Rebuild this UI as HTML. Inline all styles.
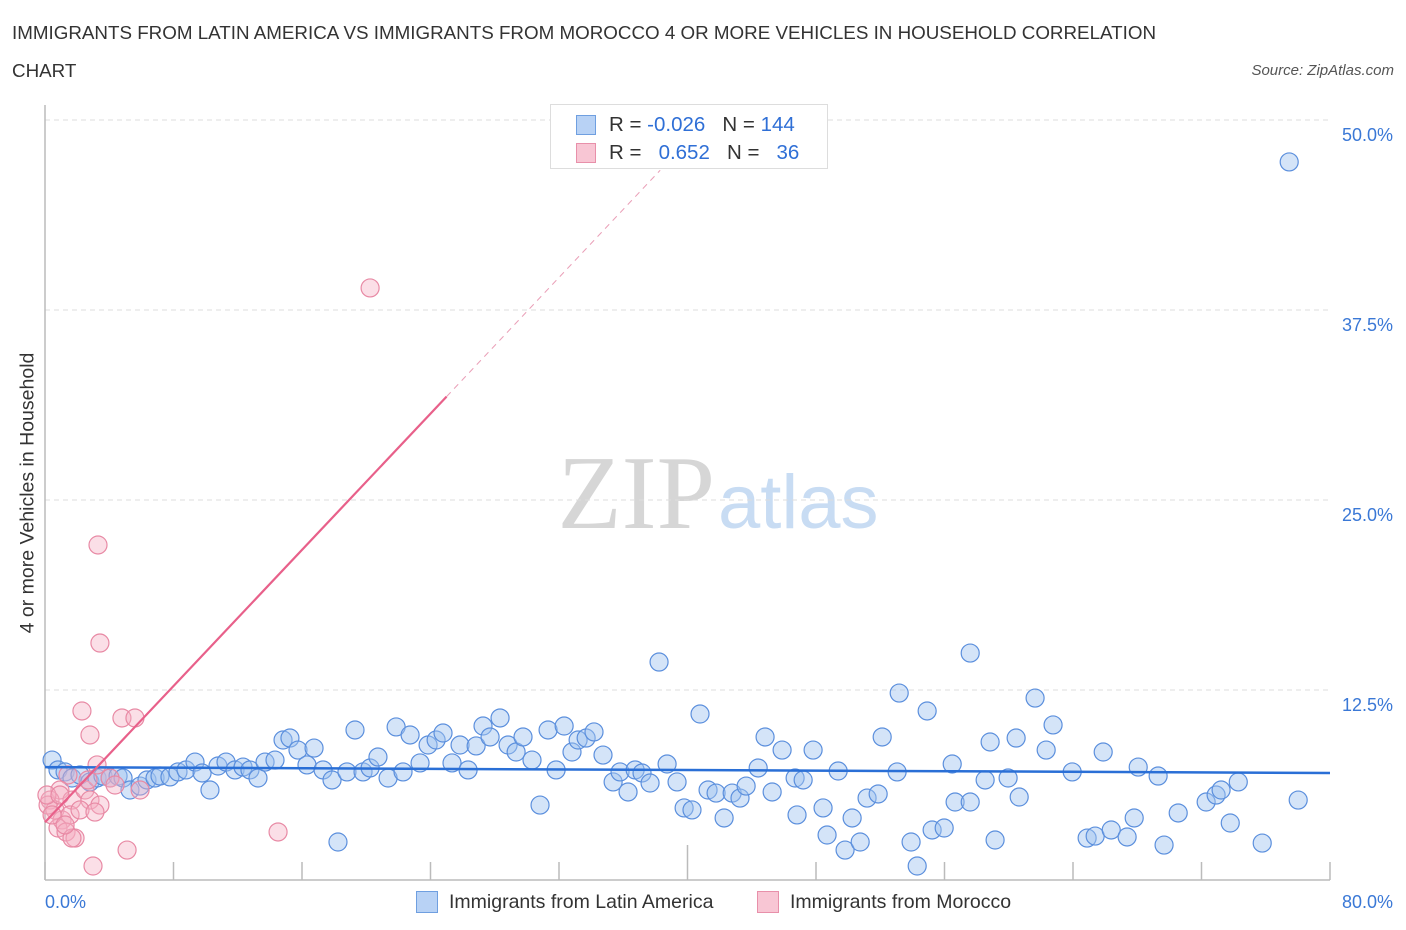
<!DOCTYPE html>
<html><head><meta charset="utf-8">
<style>
body{margin:0;background:#fff;font-family:"Liberation Sans",sans-serif;}
#wrap{position:relative;width:1406px;height:930px;overflow:hidden;}
.t{position:absolute;white-space:nowrap;}
</style></head>
<body>
<div id="wrap">
<div class="t" style="left:12px;top:22px;font-size:18.8px;color:#333;">IMMIGRANTS FROM LATIN AMERICA VS IMMIGRANTS FROM MOROCCO 4 OR MORE VEHICLES IN HOUSEHOLD CORRELATION</div>
<div class="t" style="left:12px;top:60px;font-size:18.8px;color:#333;">CHART</div>
<div class="t" style="right:12px;top:62px;font-size:15px;color:#555;font-style:italic;">Source: ZipAtlas.com</div>
<svg id="chart" width="1406" height="930" style="position:absolute;left:0;top:0">
<text x="715" y="528" font-family="Liberation Serif,serif" font-size="105" fill="#d6d6d6" text-anchor="end">ZIP</text>
<text x="718" y="528" font-family="Liberation Sans,sans-serif" font-size="76" fill="#c8dcf3">atlas</text>
</svg>
<div class="t" style="left:550px;top:104px;width:276px;height:63px;border:1px solid #ddd;background:#fff;">
 <div style="position:absolute;left:25px;top:10px;width:18px;height:18px;background:#b8d2f5;border:1px solid #6f9fe0;"></div>
 <div style="position:absolute;left:25px;top:38px;width:18px;height:18px;background:#f8c6d4;border:1px solid #e890aa;"></div>
 <div class="t" style="left:58px;top:8px;font-size:20.5px;color:#333;">R = <span style="color:#2f6fd6">-0.026</span>&nbsp;&nbsp;&nbsp;N = <span style="color:#2f6fd6">144</span></div>
 <div class="t" style="left:58px;top:36px;font-size:20.5px;color:#333;">R = &nbsp;&nbsp;<span style="color:#2f6fd6">0.652</span>&nbsp;&nbsp;&nbsp;N = &nbsp;&nbsp;<span style="color:#2f6fd6">36</span></div>
</div>
<div class="t" style="left:416px;top:891px;width:20px;height:20px;background:#b8d2f5;border:1px solid #6f9fe0;"></div>
<div class="t" style="left:449px;top:891px;font-size:19.5px;color:#333;">Immigrants from Latin America</div>
<div class="t" style="left:757px;top:891px;width:20px;height:20px;background:#f8c6d4;border:1px solid #e890aa;"></div>
<div class="t" style="left:790px;top:891px;font-size:19.5px;color:#333;">Immigrants from Morocco</div>
<div class="t" style="left:14px;top:493px;font-size:19.5px;color:#333;transform:translate(-50%,-50%) rotate(-90deg);transform-origin:center;margin-left:14px;">4 or more Vehicles in Household</div>
</div>
<script>
const latinX=[0.44,0.81,1.25,1.68,2.18,2.8,3.24,3.61,4.05,4.55,4.86,5.29,5.92,6.35,6.85,7.16,7.78,8.28,8.78,9.34,9.78,10.27,10.77,11.27,11.83,12.33,12.76,13.26,13.7,14.32,14.82,15.25,15.75,16.31,16.75,17.31,17.87,18.24,18.8,19.3,19.8,20.24,20.73,21.36,21.86,22.29,22.73,23.35,23.85,24.35,24.78,25.34,25.84,26.34,26.84,27.27,27.71,28.33,28.83,29.33,29.76,30.32,30.82,31.32,31.82,32.32,32.81,33.19,33.69,34.18,34.74,35.37,35.8,36.3,36.74,37.17,37.67,38.23,38.73,39.35,39.79,40.28,40.78,41.28,41.78,42.28,42.78,43.27,43.65,44.4,44.83,45.27,45.89,46.7,46.82,47.2,47.82,48.44,48.69,49.38,49.81,50.25,50.75,51.18,51.87,52.12,53.05,53.18,53.92,54.3,54.92,55.23,55.98,56.48,56.66,57.6,57.6,58.53,58.84,59.15,59.96,60.46,60.65,61.64,62.33,62.76,63.95,64.88,65.38,65.88,66.38,67.37,67.81,68.06,69.3,69.67,70.55,72.29,72.91,73.22,73.79,74.29,75.78,77.46,78.02];
const latinY=[7.89,7.24,7.11,6.71,6.91,6.45,6.71,6.84,6.71,6.84,6.71,5.92,6.18,6.58,6.71,6.84,6.78,7.11,7.24,7.76,7.04,5.92,7.5,7.76,7.24,7.43,7.24,6.71,7.76,7.89,9.21,9.34,8.55,7.57,8.68,7.24,6.58,2.5,7.11,9.87,7.11,7.37,8.09,6.71,10.07,7.11,9.54,7.7,8.88,9.21,9.67,7.7,8.88,7.24,8.82,10.13,9.41,10.66,8.88,8.42,9.41,7.89,4.93,9.87,7.24,10.13,8.42,9.21,9.34,9.74,8.22,6.45,7.11,5.79,7.24,7.04,6.38,14.34,7.63,6.45,4.74,4.61,10.92,5.92,5.72,4.08,5.72,5.39,6.18,7.37,9.41,5.79,8.55,6.71,4.28,6.58,8.55,4.74,2.96,7.17,1.97,4.08,2.5,5.39,5.66,9.41,7.11,12.3,2.5,0.92,11.12,3.29,3.42,7.63,5.13,5.13,14.93,6.58,9.08,2.63,6.71,9.34,5.46,11.97,8.55,10.2,7.11,2.76,2.89,8.42,3.29,2.83,4.08,7.43,6.84,2.3,4.41,5.13,5.59,5.92,3.75,6.45,2.43,47.24,5.26];
const moroccoX=[3.3,3.42,2.3,4.79,5.6,2.8,3.24,1.43,0.93,0.31,0.62,0.19,1.68,1.06,1.56,0.81,1.31,1.87,2.49,2.8,2.18,3.42,4.05,4.36,5.92,20.24,14.51,5.11,2.99,0.12,0.44,1.68,1.25,2.68,0.93,3.11];
const moroccoY=[22.04,15.59,11.12,10.66,10.66,9.54,7.57,6.91,5.92,5.26,4.61,4.93,5.26,3.95,4.28,3.42,3.16,2.76,5.92,5.26,4.61,4.93,6.71,6.25,5.92,38.95,3.16,1.97,0.92,5.59,4.28,2.76,3.62,6.58,5.59,4.47];
const latinTrend=[7.43,7.04];
const moroccoTrend=[3.8,1.12];
const yTicks=["12.5%","25.0%","37.5%","50.0%"];
const yTickVals=[12.5,25,37.5,50];
const xTickLabels=["0.0%","80.0%"];

const svg=document.getElementById('chart');
const NS='http://www.w3.org/2000/svg';
const X0=45,X1=1330,Y0=880,Y1=120;
const sx=v=>X0+(X1-X0)*v/80;
const sy=v=>Y0-(Y0-Y1)*v/50;
function mk(tag,attrs){const e=document.createElementNS(NS,tag);for(const k in attrs)e.setAttribute(k,attrs[k]);svg.appendChild(e);return e;}

yTickVals.forEach((v,i)=>{
 const g=mk('line',{x1:X0,x2:X1,y1:sy(v),y2:sy(v),stroke:'#ddd','stroke-dasharray':'5,4'});
 
 
 const t=mk('text',{x:1393,y:sy(v)+21,'text-anchor':'end','font-size':18,fill:'#3a78d6','font-family':'Liberation Sans,sans-serif'});
 t.textContent=yTicks[i];
 
 
});
const ax=mk('line',{x1:X0,x2:X0,y1:105,y2:Y0,stroke:'#bbb','stroke-width':1.5});


const bx=mk('line',{x1:X0,x2:X1,y1:Y0,y2:Y0,stroke:'#bbb','stroke-width':1.5});


for(let i=0;i<=10;i++){
 const v=i*8;
 const tk=mk('line',{x1:sx(v),x2:sx(v),y1:i===5?845:862,y2:Y0,stroke:'#bbb','stroke-width':1.5});
 
 
}
const xl0=mk('text',{x:45,y:908,'font-size':18,fill:'#3a78d6','font-family':'Liberation Sans,sans-serif'});
xl0.textContent=xTickLabels[0];


const xl1=mk('text',{x:1393,y:908,'text-anchor':'end','font-size':18,fill:'#3a78d6','font-family':'Liberation Sans,sans-serif'});
xl1.textContent=xTickLabels[1];



latinX.forEach((x,i)=>{
 const c=mk('circle',{cx:sx(x),cy:sy(latinY[i]),r:9,fill:'rgba(160,196,240,0.45)',stroke:'#5b8fdd','stroke-width':1.2});
 
 
});
moroccoX.forEach((x,i)=>{
 const c=mk('circle',{cx:sx(x),cy:sy(moroccoY[i]),r:9,fill:'rgba(245,175,195,0.4)',stroke:'#e88aa5','stroke-width':1.2});
 
 
});
const lt=mk('line',{x1:sx(0),x2:sx(80),y1:sy(latinTrend[0]),y2:sy(latinTrend[1]),stroke:'#2a6fd6','stroke-width':2.5});


const mt=mk('line',{x1:sx(0),x2:sx(25),y1:sy(moroccoTrend[0]),y2:sy(moroccoTrend[0]+moroccoTrend[1]*25),stroke:'#e8608a','stroke-width':2.2});


const md=mk('line',{x1:sx(25),x2:sx(38.3),y1:sy(moroccoTrend[0]+moroccoTrend[1]*25),y2:sy(moroccoTrend[0]+moroccoTrend[1]*38.3),stroke:'#eaa0b8','stroke-width':1,'stroke-dasharray':'6,5'});


</script>
</body></html>
